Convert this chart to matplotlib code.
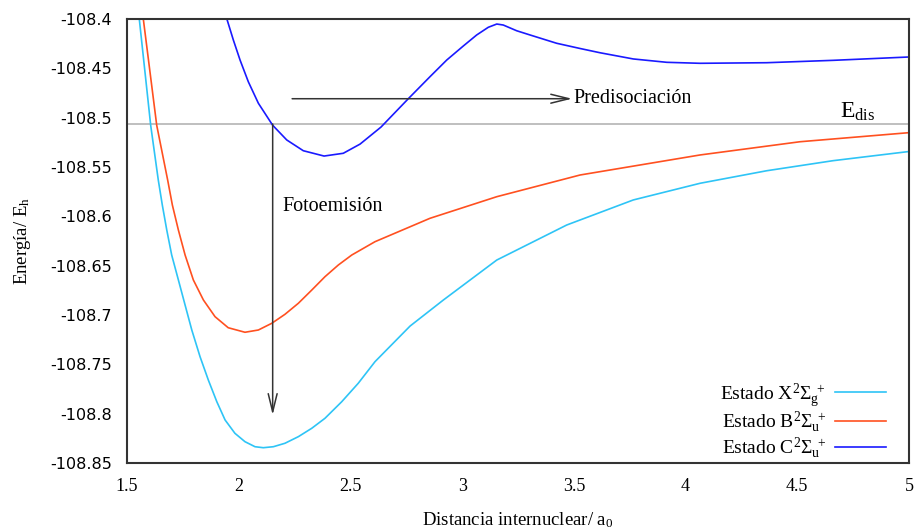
import matplotlib
matplotlib.use('Agg')
import matplotlib.pyplot as plt

# potential energy curves (R in bohr, E in hartree)
r_x = [1.555, 1.606, 1.640, 1.658, 1.678, 1.700, 1.730, 1.760, 1.790, 1.827,
       1.864, 1.902, 1.939, 1.983, 2.028, 2.073, 2.110, 2.155, 2.207, 2.267,
       2.327, 2.386, 2.461, 2.535, 2.610, 2.767, 2.916, 3.155, 3.468, 3.766,
       4.065, 4.363, 4.660, 5.0]
e_x = [-108.4000, -108.5077, -108.5632, -108.5885, -108.6139, -108.6392,
       -108.6645, -108.6899, -108.7152, -108.7423, -108.7659, -108.7879,
       -108.8064, -108.8199, -108.8284, -108.8335, -108.8345, -108.8335,
       -108.8300, -108.8233, -108.8148, -108.8047, -108.7879, -108.7692,
       -108.7473, -108.7112, -108.6848, -108.6443, -108.6088, -108.5834,
       -108.5665, -108.5538, -108.5436, -108.5343]

r_b = [1.573, 1.633, 1.682, 1.703, 1.730, 1.760, 1.797, 1.842, 1.894, 1.953,
       2.028, 2.088, 2.148, 2.207, 2.267, 2.327, 2.386, 2.446, 2.506, 2.610,
       2.856, 3.155, 3.528, 4.065, 4.512, 5.0]
e_b = [-108.4000, -108.5077, -108.5632, -108.5885, -108.6139, -108.6392,
       -108.6645, -108.6848, -108.7017, -108.7129, -108.7175, -108.7152,
       -108.7084, -108.6993, -108.6881, -108.6747, -108.6612, -108.6493,
       -108.6392, -108.6257, -108.6020, -108.5801, -108.5581, -108.5378,
       -108.5244, -108.5152]

r_c = [1.947, 1.976, 2.006, 2.043, 2.088, 2.152, 2.215, 2.289, 2.382, 2.468,
       2.543, 2.637, 2.759, 2.856, 2.931, 3.005, 3.065, 3.117, 3.155, 3.184,
       3.244, 3.304, 3.423, 3.528, 3.617, 3.766, 3.916, 4.065, 4.363, 4.660,
       5.0]
e_c = [-108.4000, -108.4213, -108.4416, -108.4636, -108.4854, -108.5077,
       -108.5226, -108.5335, -108.5389, -108.5361, -108.5268, -108.5095,
       -108.4808, -108.4585, -108.4416, -108.4274, -108.4162, -108.4084,
       -108.4051, -108.4061, -108.4119, -108.4162, -108.4246, -108.4299,
       -108.4342, -108.4405, -108.4439, -108.4449, -108.4443, -108.4419,
       -108.4385]

e_dis = -108.5064
r_emision = 2.152
e_emision_end = -108.8013
r_predis = [2.239, 3.492]
e_predis = -108.4808

plt.rcParams['mathtext.fontset'] = 'custom'
plt.rcParams['mathtext.rm'] = 'Liberation Serif'
plt.rcParams['mathtext.it'] = 'Liberation Serif:italic'
plt.rcParams['mathtext.bf'] = 'Liberation Serif:bold'

serif = 'Liberation Serif'

fig = plt.figure(figsize=(9.16, 5.31), dpi=100)
ax = fig.add_axes([127/916, 1 - 463/531, 782/916, 444/531])

ax.axhline(e_dis, color='#b4b4b4', lw=1.2, zorder=1)

ax.plot(r_x, e_x, color='#2ec4f6', lw=1.2,
        label=r'Estado X$^2\Sigma_\mathrm{g}^{\ +}$')
ax.plot(r_b, e_b, color='#ff5020', lw=1.2,
        label=r'Estado B$^2\Sigma_\mathrm{u}^{\ +}$')
ax.plot(r_c, e_c, color='#1a1aff', lw=1.2,
        label=r'Estado C$^2\Sigma_\mathrm{u}^{\ +}$')

arrow = dict(arrowstyle='->,head_length=1.3,head_width=0.32',
             color='#333333', lw=1.1, shrinkA=0, shrinkB=0)
ax.annotate('', xy=(r_emision, e_emision_end), xytext=(r_emision, e_dis),
            arrowprops=arrow)
ax.annotate('', xy=(r_predis[1], e_predis), xytext=(r_predis[0], e_predis),
            arrowprops=arrow)

ax.text(3.496, e_predis, 'Predisociación', family=serif, fontsize=14.5,
        ha='left', va='center')
ax.text(2.194, -108.5905, 'Fotoemisión', family=serif, fontsize=14.5,
        ha='left', va='center')
ax.text(4.691, -108.5003, r'E$_{\mathrm{dis}}$', family=serif, fontsize=17,
        ha='left', va='baseline')

ax.set_xlim(1.5, 5)
ax.set_ylim(-108.85, -108.4)
ax.set_xticks([1.5, 2, 2.5, 3, 3.5, 4, 4.5, 5])
ax.set_xticklabels(['1.5', '2', '2.5', '3', '3.5', '4', '4.5', '5'],
                   family=serif, fontsize=13)
yt = [-108.4, -108.45, -108.5, -108.55, -108.6, -108.65, -108.7, -108.75,
      -108.8, -108.85]
ax.set_yticks(yt)
ax.set_yticklabels([f'{v:g}' for v in yt], family='DejaVu Sans', fontsize=11.5)
ax.tick_params(length=0, pad=11)

for s in ax.spines.values():
    s.set_color('#333333')
    s.set_linewidth(1.5)

ax.set_xlabel(r'Distancia internuclear/ a$_0$', family=serif, fontsize=13.5)
ax.set_ylabel(r'Energía/ E$_\mathrm{h}$', family=serif, fontsize=13.5)
ax.xaxis.set_label_coords(0.5, -0.128)
ax.xaxis.label.set_va('center')
ax.yaxis.set_label_coords(-0.134, 0.5)
ax.yaxis.label.set_va('center')

ax.legend(loc='lower right', bbox_to_anchor=(0.973, 0.0), frameon=False,
          markerfirst=False, handlelength=2.6, handletextpad=0.5,
          labelspacing=0.0, borderpad=0.1, borderaxespad=0,
          prop={'family': serif, 'size': 14})

fig.savefig('out.png', dpi=100)
